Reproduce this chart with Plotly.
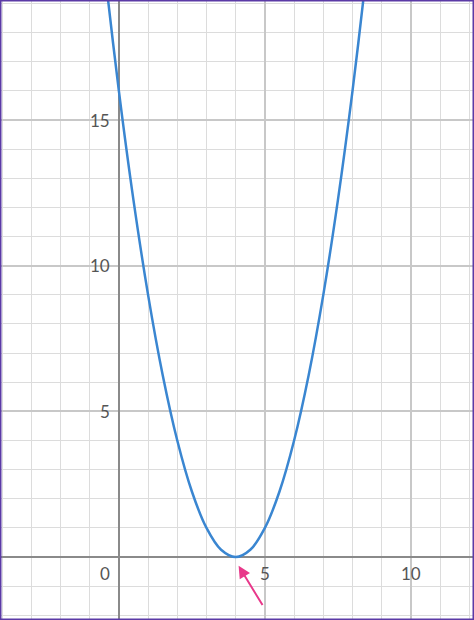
import plotly.graph_objects as go

# points
xs = [-0.6, -0.5, 0, 0.5, 1, 1.5, 2, 2.5, 3, 3.5, 4, 4.5, 5, 5.5, 6, 6.5, 7, 7.5, 8, 8.5, 8.6]
ys = [21.16, 20.25, 16, 12.25, 9, 6.25, 4, 2.25, 1, 0.25, 0, 0.25, 1, 2.25, 4, 6.25, 9, 12.25, 16, 20.25, 21.16]

x_ticks = [5, 10]
y_ticks = [5, 10, 15]

fig = go.Figure()
fig.add_trace(go.Scatter(x=xs, y=ys, mode="lines", line=dict(color="#3a86d1", width=2.5, shape="spline"),
                         hoverinfo="skip"))

for t in x_ticks:
    fig.add_annotation(x=t, y=-0.55, text=str(t), showarrow=False, xanchor="center",
                       font=dict(size=17, color="#555", family="Lato"))
for t in y_ticks:
    fig.add_annotation(x=-0.25, y=t, text=str(t), showarrow=False, xanchor="right",
                       font=dict(size=17, color="#555", family="Lato"))
fig.add_annotation(x=-0.25, y=-0.55, text="0", showarrow=False, xanchor="right",
                   font=dict(size=17, color="#555", family="Lato"))

# pink arrow pointing at the vertex
fig.add_annotation(x=4.1, y=-0.3, ax=4.95, ay=-1.7, xref="x", yref="y", axref="x", ayref="y",
                   text="", showarrow=True, arrowhead=2, arrowsize=1.2, arrowwidth=2, arrowcolor="#e8388a")

axis_common = dict(showgrid=True, gridcolor="#c8c8c8", gridwidth=2, dtick=5, tick0=0,
                   minor=dict(dtick=1, showgrid=True, gridcolor="#dcdcdc", gridwidth=1),
                   zeroline=True, zerolinecolor="#8a8a8a", zerolinewidth=2,
                   showticklabels=False, ticks="", fixedrange=True)

fig.update_layout(
    width=474, height=620, margin=dict(l=0, r=0, t=0, b=0),
    paper_bgcolor="white", plot_bgcolor="white", showlegend=False,
    xaxis=dict(range=[-4.07, 12.16], **axis_common),
    yaxis=dict(range=[-2.16, 19.12], **axis_common),
    shapes=[dict(type="rect", xref="paper", yref="paper", x0=0, y0=0, x1=1, y1=1,
                 line=dict(color="#5b3aa6", width=3))],
)

fig.write_html("out.html", config=dict(displayModeBar=False),
               post_script="document.body.style.margin='0';document.body.style.overflow='hidden';")
